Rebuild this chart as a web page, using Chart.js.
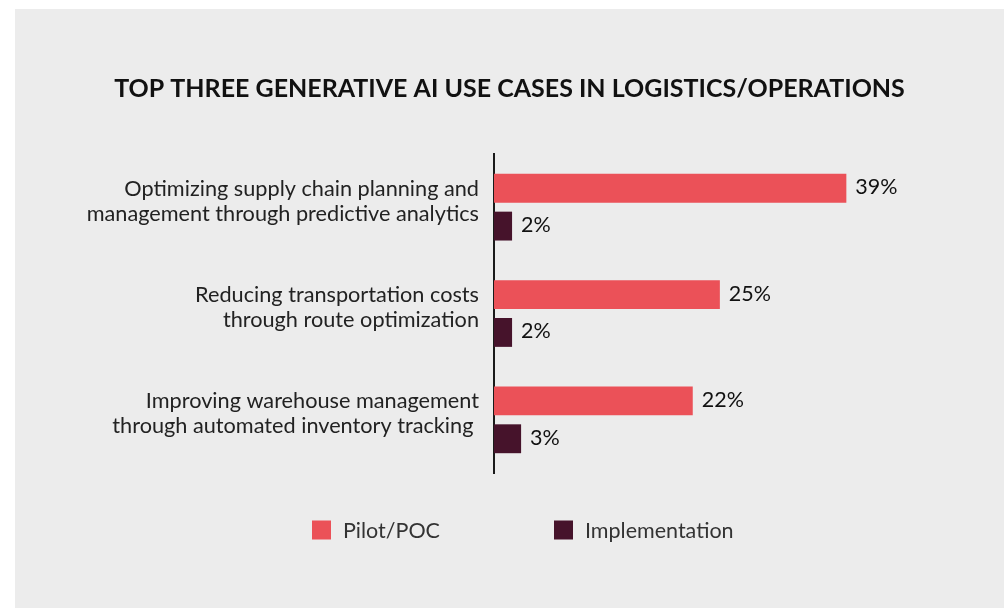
<!DOCTYPE html>
<html>
<head>
<meta charset="utf-8">
<script src="https://cdn.jsdelivr.net/npm/chart.js@4.4.1/dist/chart.umd.min.js"></script>
<style>
  html, body { margin: 0; padding: 0; background: #ffffff; }
  #panel { position: absolute; left: 15px; top: 9px; width: 989px; height: 599px; background: #ececec; }
  canvas { display: block; }
</style>
</head>
<body>
<div id="panel"><canvas id="c" width="989" height="599"></canvas></div>
<script>
const titleText = 'TOP THREE GENERATIVE AI USE CASES IN LOGISTICS/OPERATIONS';
const categories = [
  ['Optimizing supply chain planning and', 'management through predictive analytics'],
  ['Reducing transportation costs', 'through route optimization'],
  ['Improving warehouse management', 'through automated inventory tracking ']
];
const seriesNames = ['Pilot/POC', 'Implementation'];
const pilotValues = [39, 25, 22];
const implementationValues = [2, 2, 3];
const seriesColors = ['#eb5158', '#46132b'];

const FONT = "Lato, 'Open Sans', sans-serif";

const valueLabels = {
  id: 'valueLabels',
  afterDatasetsDraw(chart) {
    const ctx = chart.ctx;
    ctx.save();
    ctx.font = '21.5px ' + FONT;
    ctx.fillStyle = '#111111';
    ctx.textAlign = 'left';
    ctx.textBaseline = 'middle';
    chart.data.datasets.forEach((ds, i) => {
      chart.getDatasetMeta(i).data.forEach((bar, j) => {
        ctx.fillText(ds.data[j] + '%', bar.x + 9, bar.y - 1);
      });
    });
    ctx.restore();
  }
};

const customLegend = {
  id: 'customLegend',
  afterDraw(chart) {
    const ctx = chart.ctx;
    ctx.save();
    ctx.font = '21.5px ' + FONT;
    ctx.textBaseline = 'middle';
    ctx.textAlign = 'left';
    const y = 521;
    const starts = [297, 539];
    chart.data.datasets.forEach((ds, i) => {
      ctx.fillStyle = ds.backgroundColor;
      ctx.fillRect(starts[i], y - 9.5, 19, 19);
      ctx.fillStyle = '#333333';
      ctx.fillText(ds.label, starts[i] + 31, y + 1);
    });
    ctx.restore();
  }
};

new Chart(document.getElementById('c'), {
  type: 'bar',
  data: {
    labels: categories,
    datasets: [
      { label: seriesNames[0], data: pilotValues, backgroundColor: seriesColors[0], categoryPercentage: 0.712, barPercentage: 0.763 },
      { label: seriesNames[1], data: implementationValues, backgroundColor: seriesColors[1], categoryPercentage: 0.712, barPercentage: 0.763 }
    ]
  },
  options: {
    indexAxis: 'y',
    responsive: false,
    animation: false,
    layout: { padding: { left: 0, right: 0, top: 0, bottom: 135 } },
    scales: {
      x: { display: false, min: 0, max: 56.45, grid: { display: false } },
      y: {
        grid: { display: false, drawTicks: false },
        border: { display: true, color: '#1a1a1a', width: 2 },
        ticks: { color: '#222222', padding: 15, labelOffset: -6, font: { family: FONT, size: 21.7, lineHeight: 1.15 } },
        afterFit(scale) { scale.width = 479; }
      }
    },
    plugins: {
      legend: { display: false },
      tooltip: { enabled: false },
      title: {
        display: true,
        text: titleText,
        color: '#111111',
        font: { family: FONT, size: 25, weight: 'bold', lineHeight: 1.2 },
        padding: { top: 65, bottom: 50 }
      }
    }
  },
  plugins: [valueLabels, customLegend]
});
</script>
</body>
</html>
